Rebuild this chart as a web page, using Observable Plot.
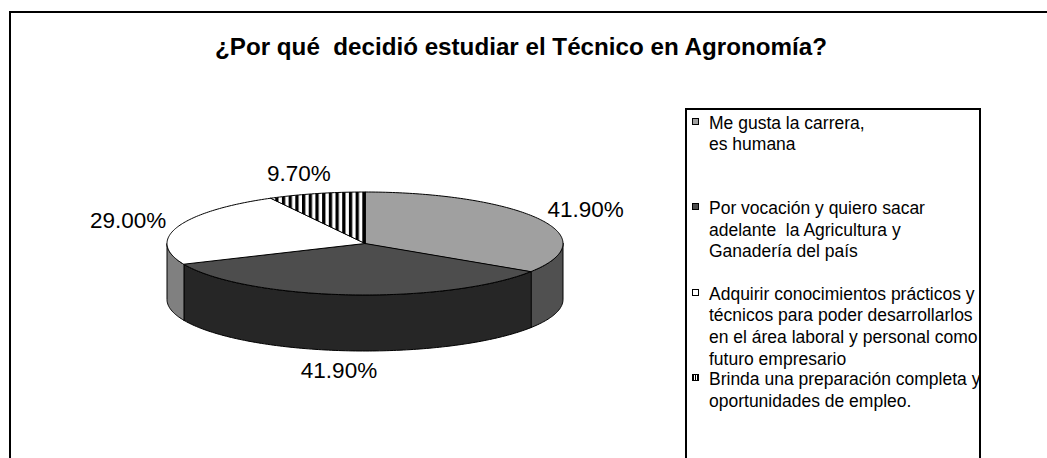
<!DOCTYPE html>
<html><head><meta charset="utf-8">
<script src="https://cdn.jsdelivr.net/npm/d3@7"></script>
<script src="https://cdn.jsdelivr.net/npm/@observablehq/plot@0.6"></script>
<style>
html,body{margin:0;padding:0;background:#fff;overflow:hidden;}
#wrap{position:relative;width:1047px;height:458px;overflow:hidden;font-family:"Liberation Sans",Arial,sans-serif;background:#fff;}
#chart{position:absolute;left:0;top:0;}
#frame{position:absolute;left:9px;top:11px;width:2000px;height:2000px;border-left:2px solid #000;border-top:2px solid #000;}
#title{position:absolute;left:0;width:1042px;top:35px;text-align:center;font-weight:bold;font-size:24.2px;line-height:24px;white-space:pre;color:#000;}
#legend{position:absolute;left:685px;top:108px;width:292px;height:1000px;border:2px solid #000;}
.item{position:absolute;left:0;}
.mk{position:absolute;left:5px;top:5px;width:5px;height:5px;border:1px solid #000;}
.tx{position:absolute;left:22px;top:0;font-size:17.5px;line-height:21.7px;white-space:pre;color:#000;}
</style></head>
<body>
<div id="wrap">
  <div id="chart"></div>
  <div id="frame"></div>
  <div id="title"></div>
  <div id="legend"></div>
</div>
<script>
// ---- data ----
const titleText = "¿Por qué  decidió estudiar el Técnico en Agronomía?";
const categories = [
  "Me gusta la carrera, es humana",
  "Por vocación y quiero sacar adelante  la Agricultura y Ganadería del país",
  "Adquirir conocimientos prácticos y técnicos para poder desarrollarlos en el área laboral y personal como futuro empresario",
  "Brinda una preparación completa y oportunidades de empleo."
];
const legendLines = [
  ["Me gusta la carrera,", "es humana"],
  ["Por vocación y quiero sacar", "adelante  la Agricultura y", "Ganadería del país"],
  ["Adquirir conocimientos prácticos y", "técnicos para poder desarrollarlos", "en el área laboral y personal como", "futuro empresario"],
  ["Brinda una preparación completa y", "oportunidades de empleo."]
];
const values = [41.9, 41.9, 29.0, 9.7];
const valueLabels = ["41.90%", "41.90%", "29.00%", "9.70%"];
const topColors = ["#a0a0a0", "#4d4d4d", "#ffffff", "url(#stripes)"];
const sideColors = ["#505050", "#262626", "#808080", "#404040"];

// ---- layout (styles) ----
const cx = 364.5, cy = 243, rx = 198, ry = 51.5, depth = 56;
const D = depth / ry;

const arcs = d3.pie().sort(null).value(d => d)(values);
const step = Math.PI / 180;
function arcPts(a0, a1, dy) {
  const n = Math.max(2, Math.ceil(Math.abs(a1 - a0) / step));
  return d3.range(n + 1).map(i => {
    const a = a0 + (a1 - a0) * i / n;
    return {x: Math.sin(a), y: -Math.cos(a) + dy};
  });
}

const tops = [];
const sides = [];
arcs.forEach((p, i) => {
  const pts = [{x: 0, y: 0}, ...arcPts(p.startAngle, p.endAngle, 0)];
  pts.forEach(q => tops.push({...q, id: "t" + i, fill: topColors[i]}));
  const a = Math.max(p.startAngle, Math.PI / 2), b = Math.min(p.endAngle, 3 * Math.PI / 2);
  if (b > a) {
    const sp = [...arcPts(a, b, 0), ...arcPts(b, a, D)];
    sp.forEach(q => sides.push({...q, id: "s" + i, fill: sideColors[i]}));
  }
});

const labels = arcs.map((p, i) => {
  const m = (p.startAngle + p.endAngle) / 2;
  const front = m > Math.PI / 2 && m < 3 * Math.PI / 2;
  const s = Math.sin(m);
  return {
    x: s * (1 + 46 / rx) + Math.sign(s) * 6 / rx,
    y: -Math.cos(m) * (1 + 20 / ry) + (front ? D : 0),
    text: valueLabels[i]
  };
});

const chart = Plot.plot({
  width: 1047, height: 458, margin: 0,
  x: {domain: [-1, 1], range: [cx - rx, cx + rx], axis: null},
  y: {domain: [-1, 1], range: [cy - ry, cy + ry], axis: null},
  color: {type: "identity"},
  style: {background: "transparent"},
  marks: [
    Plot.line(sides, {x: "x", y: "y", z: "id", fill: "fill", stroke: "#000", strokeWidth: 1, curve: "linear-closed"}),
    Plot.line(tops, {x: "x", y: "y", z: "id", fill: "fill", stroke: "#000", strokeWidth: 1, curve: "linear-closed"}),
    Plot.text(labels, {x: "x", y: "y", text: "text", fontSize: 22.5, fontFamily: "Liberation Sans, Arial, sans-serif", fill: "#000"})
  ]
});
const defs = d3.select(chart).insert("defs", ":first-child");
const pat = defs.append("pattern").attr("id", "stripes").attr("patternUnits", "userSpaceOnUse")
  .attr("width", 6.7).attr("height", 20);
pat.append("rect").attr("width", 6.7).attr("height", 20).attr("fill", "#fff");
pat.append("rect").attr("width", 3.3).attr("height", 20).attr("fill", "#000");
document.getElementById("chart").appendChild(chart);

document.getElementById("title").textContent = titleText;

const legend = d3.select("#legend");
const mkFills = ["#a0a0a0", "#4d4d4d", "#ffffff", "linear-gradient(90deg,#000 0 1px,#fff 1px 2px,#000 2px 3px,#fff 3px 4px,#000 4px 5px)"];
legendLines.forEach((lines, i) => {
  const it = legend.append("div").attr("class", "item").style("top", (2.5 + i * 85.5) + "px").attr("title", categories[i]);
  it.append("div").attr("class", "mk").style("background", mkFills[i]);
  const tx = it.append("div").attr("class", "tx");
  lines.forEach((l, j) => { if (j) tx.append("br"); tx.append("span").text(l); });
});
</script>
</body></html>
